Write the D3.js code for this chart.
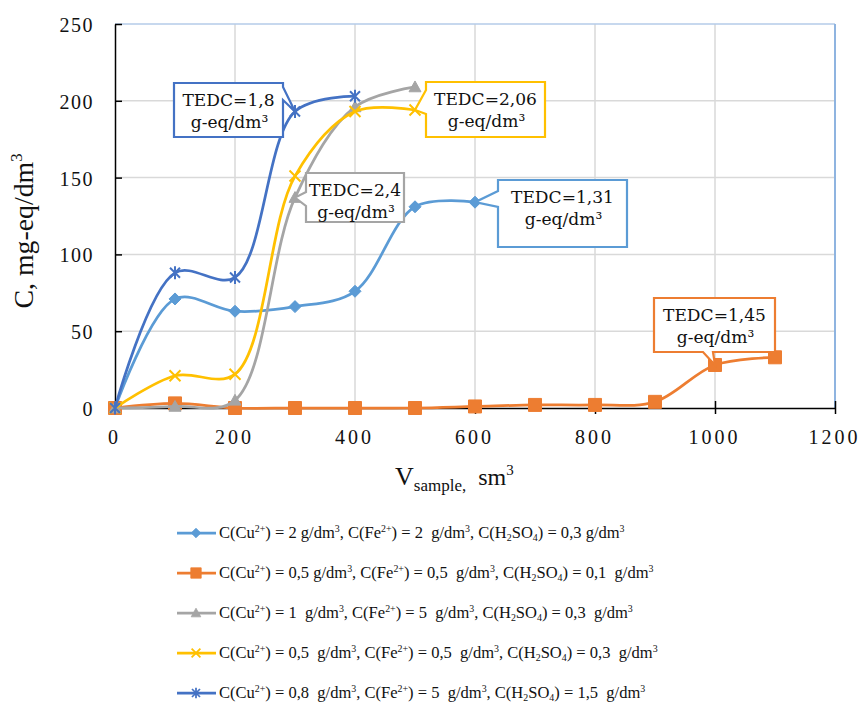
<!DOCTYPE html>
<html><head><meta charset="utf-8">
<script src="https://cdn.jsdelivr.net/npm/d3@7"></script>
<style>body{margin:0;background:#fff} svg{display:block}</style>
</head><body>
<svg id="chart" width="861" height="702"></svg>
<script>
// ---------------- data ----------------
const xTicks = [0, 200, 400, 600, 800, 1000, 1200];
const yTicks = [0, 50, 100, 150, 200, 250];

const vSeries1 = [0, 100, 200, 300, 400, 500, 600];
const cSeries1 = [0, 71, 63, 66, 76, 131, 134];

const vSeries2 = [0, 100, 200, 300, 400, 500, 600, 700, 800, 900, 1000, 1100];
const cSeries2 = [0, 3, 0, 0, 0, 0, 1, 2, 2, 4, 28, 33];

const vSeries3 = [0, 100, 200, 300, 400, 500];
const cSeries3 = [0, 1, 5, 137, 196, 209];

const vSeries4 = [0, 100, 200, 300, 400, 500];
const cSeries4 = [0, 21, 22, 151, 193, 194];

const vSeries5 = [0, 100, 200, 300, 400];
const cSeries5 = [0, 88, 85, 193, 203];

const legendLabels = [
  "C(Cu^{2+}) = 2 g/dm^{3}, C(Fe^{2+}) = 2  g/dm^{3}, C(H_{2}SO_{4}) = 0,3 g/dm^{3}",
  "C(Cu^{2+}) = 0,5 g/dm^{3}, C(Fe^{2+}) = 0,5  g/dm^{3}, C(H_{2}SO_{4}) = 0,1  g/dm^{3}",
  "C(Cu^{2+}) = 1  g/dm^{3}, C(Fe^{2+}) = 5  g/dm^{3}, C(H_{2}SO_{4}) = 0,3  g/dm^{3}",
  "C(Cu^{2+}) = 0,5  g/dm^{3}, C(Fe^{2+}) = 0,5  g/dm^{3}, C(H_{2}SO_{4}) = 0,3  g/dm^{3}",
  "C(Cu^{2+}) = 0,8  g/dm^{3}, C(Fe^{2+}) = 5  g/dm^{3}, C(H_{2}SO_{4}) = 1,5  g/dm^{3}"
];

// callouts: [line1, line2], series index, point index
const calloutTexts = [
  ["TEDC=1,8", "g-eq/dm³"],
  ["TEDC=2,06", "g-eq/dm³"],
  ["TEDC=2,4", "g-eq/dm³"],
  ["TEDC=1,31", "g-eq/dm³"],
  ["TEDC=1,45", "g-eq/dm³"]
];
const calloutSeries = [4, 3, 2, 0, 1];
const calloutPoint = [3, 5, 3, 6, 10];

const yTitle = "C, mg-eq/dm^{3}";

// ---------------- layout / style ----------------
const series = [
  {v: vSeries1, c: cSeries1, color: "#5B9BD5", marker: "diamond"},
  {v: vSeries2, c: cSeries2, color: "#ED7D31", marker: "square"},
  {v: vSeries3, c: cSeries3, color: "#A5A5A5", marker: "triangle"},
  {v: vSeries4, c: cSeries4, color: "#FFC000", marker: "x"},
  {v: vSeries5, c: cSeries5, color: "#4472C4", marker: "asterisk"}
];
// callout boxes in pixels: x0,y0,x1,y1, pointer side, base a,b
const calloutBoxes = [
  {x0:174, y0:83, x1:283, y1:137, side:"right", a:87, b:100},
  {x0:426, y0:82, x1:545, y1:137, side:"left", a:90, b:114},
  {x0:306, y0:173, x1:404, y1:222, side:"left", a:192, b:206},
  {x0:498, y0:180, x1:627, y1:247, side:"left", a:191, b:207},
  {x0:654, y0:298, x1:775, y1:352, side:"bottom", a:703, b:713}
];

const svg = d3.select("#chart");
const L = 115, R = 835, T = 24, B = 408;
const x = d3.scaleLinear().domain([0, 1200]).range([L, R]);
const y = d3.scaleLinear().domain([0, 250]).range([B, T]);

// gridlines
const grid = svg.append("g");
grid.selectAll("line.v").data(xTicks.filter(d => d > 0 && d < 1200)).join("line")
  .attr("x1", d => x(d)).attr("x2", d => x(d)).attr("y1", T).attr("y2", B)
  .attr("stroke", "#D9D9D9").attr("stroke-width", 1.5);
grid.selectAll("line.h").data(yTicks.filter(d => d > 0 && d < 250)).join("line")
  .attr("y1", d => y(d)).attr("y2", d => y(d)).attr("x1", L).attr("x2", R)
  .attr("stroke", "#D9D9D9").attr("stroke-width", 1.5);
// plot border top/right
svg.append("line").attr("x1", L).attr("x2", R).attr("y1", T).attr("y2", T)
  .attr("stroke", "#B4CBE8").attr("stroke-width", 1.5);
svg.append("line").attr("x1", R).attr("x2", R).attr("y1", T).attr("y2", B)
  .attr("stroke", "#8FB4E0").attr("stroke-width", 2);

// axes
const serif = "Liberation Serif";
const xAxis = svg.append("g").attr("transform", `translate(0,${B})`)
  .call(d3.axisBottom(x).tickValues(xTicks).tickSizeInner(6).tickSizeOuter(0).tickFormat(d3.format("d")));
const yAxis = svg.append("g").attr("transform", `translate(${L},0)`)
  .call(d3.axisLeft(y).tickValues(yTicks).tickSizeInner(8).tickSizeOuter(0).tickFormat(d3.format("d")));
[xAxis, yAxis].forEach(g => {
  g.attr("font-family", serif);
  g.select(".domain").attr("stroke", "#000").attr("stroke-width", 1.5);
  g.selectAll(".tick line").attr("stroke", "#000").attr("stroke-width", 1.5);
  g.selectAll(".tick text").attr("fill", "#111").attr("font-family", serif).attr("font-size", 20);
});
// ticks crossing the axis
xAxis.selectAll(".tick line").attr("y1", -7);
yAxis.selectAll(".tick line").attr("x2", 7);
xAxis.selectAll(".tick text").attr("y", 0).attr("dy", 0)
  .attr("transform", "translate(-1,36)").style("letter-spacing", "3px");
yAxis.selectAll(".tick text").attr("x", -21).attr("dy", 0)
  .attr("transform", "translate(0,7.5)").style("letter-spacing", "1.5px");

// lines (smoothed)
const lineGen = d3.line().curve(d3.curveCatmullRom.alpha(0.5));
function markerPath(type) {
  if (type === "diamond") { const r = 6; return `M0,${-r}L${r},0L0,${r}L${-r},0Z`; }
  if (type === "square") { const r = 6.5; return `M${-r},${-r}H${r}V${r}H${-r}Z`; }
  if (type === "triangle") { const r = 6; return `M0,${-r}L${r},${r*0.8}L${-r},${r*0.8}Z`; }
  if (type === "x") { const r = 5.5; return `M${-r},${-r}L${r},${r}M${-r},${r}L${r},${-r}`; }
  if (type === "asterisk") { const r = 5; return `M${-r},${-r}L${r},${r}M${-r},${r}L${r},${-r}M0,${-r*1.3}L0,${r*1.3}`; }
}
const filled = t => t === "diamond" || t === "square" || t === "triangle";

series.forEach(s => {
  const pts = s.v.map((v, i) => [x(v), y(s.c[i])]);
  const g = svg.append("g");
  g.append("path").attr("d", lineGen(pts)).attr("fill", "none")
    .attr("stroke", s.color).attr("stroke-width", 2.75).attr("stroke-linejoin", "round");
  g.selectAll("path.m").data(pts).join("path").attr("class", "m")
    .attr("transform", d => `translate(${d[0]},${d[1]})`)
    .attr("d", markerPath(s.marker))
    .attr("fill", filled(s.marker) ? s.color : "none")
    .attr("stroke", s.color).attr("stroke-width", filled(s.marker) ? 1 : 2);
});

// rich text helper
function rich(textSel, str, size) {
  textSel.selectAll("tspan").remove();
  const parts = str.split(/(\^\{[^}]*\}|_\{[^}]*\})/).filter(p => p.length);
  let shift = 0;
  parts.forEach(p => {
    let t = p, s = 0, fs = size;
    if (p.startsWith("^{")) { t = p.slice(2, -1); s = -0.38 * size; fs = 0.6 * size; }
    else if (p.startsWith("_{")) { t = p.slice(2, -1); s = 0.18 * size; fs = 0.6 * size; }
    textSel.append("tspan").attr("dy", s - shift).attr("font-size", fs).text(t);
    shift = s;
  });
}
function fitSize(textSel, str, size, target) {
  rich(textSel, str, size);
  const len = textSel.node().getComputedTextLength();
  const ns = size * target / len;
  rich(textSel, str, ns);
  return ns;
}

// callouts
const calloutFont = "DejaVu Serif";
const probe = svg.append("text").attr("font-family", calloutFont).attr("font-size", 16).text("TEDC=2,06");
const cSize = 16 * 103 / probe.node().getComputedTextLength();
probe.remove();

calloutTexts.forEach((lines, k) => {
  const b = calloutBoxes[k];
  const s = series[calloutSeries[k]];
  const pi = calloutPoint[k];
  const tx = x(s.v[pi]), ty = y(s.c[pi]);
  let d = `M${b.x0},${b.y0}L${b.x1},${b.y0}`;
  if (b.side === "right") d += `L${b.x1},${b.a}L${tx},${ty}L${b.x1},${b.b}`;
  d += `L${b.x1},${b.y1}`;
  if (b.side === "bottom") d += `L${b.b},${b.y1}L${tx},${ty}L${b.a},${b.y1}`;
  d += `L${b.x0},${b.y1}`;
  if (b.side === "left") d += `L${b.x0},${b.b}L${tx},${ty}L${b.x0},${b.a}`;
  d += "Z";
  const g = svg.append("g");
  g.append("path").attr("d", d).attr("fill", "#fff").attr("stroke", s.color)
    .attr("stroke-width", 2.2).attr("stroke-linejoin", "miter");
  const cx = (b.x0 + b.x1) / 2;
  g.append("text").attr("x", cx).attr("y", b.y0 + 23).attr("text-anchor", "middle")
    .attr("font-family", calloutFont).attr("font-size", cSize).attr("fill", "#111").text(lines[0]);
  g.append("text").attr("x", cx + 1).attr("y", b.y0 + 45).attr("text-anchor", "middle")
    .attr("font-family", calloutFont).attr("font-size", cSize).attr("fill", "#111").text(lines[1]);
});

// y title
const yt = svg.append("text").attr("transform", "translate(33,231) rotate(-90)")
  .attr("text-anchor", "middle").attr("font-family", serif).attr("fill", "#111")
  .style("white-space", "pre");
fitSize(yt, yTitle, 22, 155);

// x title
const xt = svg.append("text").attr("x", 395).attr("y", 485).attr("font-family", serif)
  .attr("fill", "#111").style("white-space", "pre");
xt.append("tspan").attr("font-size", 26).text("V");
xt.append("tspan").attr("font-size", 17).attr("dy", 6).text("sample,");
xt.append("tspan").attr("font-size", 24).attr("dy", -6).text("  sm");
xt.append("tspan").attr("font-size", 15).attr("dy", -10).text("3");

// legend
const legY0 = 533, legDY = 40;
const lg = svg.append("g");
let legSize = null;
legendLabels.forEach((lab, i) => {
  const s = series[i];
  const yy = legY0 + i * legDY;
  lg.append("line").attr("x1", 177).attr("x2", 216).attr("y1", yy).attr("y2", yy)
    .attr("stroke", s.color).attr("stroke-width", 2.75);
  lg.append("path").attr("transform", `translate(196,${yy}) scale(0.8)`).attr("d", markerPath(s.marker))
    .attr("fill", filled(s.marker) ? s.color : "none")
    .attr("stroke", s.color).attr("stroke-width", filled(s.marker) ? 1 : 2.2);
  const t = lg.append("text").attr("x", 219).attr("y", yy + 5).attr("font-family", serif)
    .attr("fill", "#111").style("white-space", "pre");
  if (legSize === null) legSize = fitSize(t, lab, 16, 406);
  else rich(t, lab, legSize);
});
</script>
</body></html>
